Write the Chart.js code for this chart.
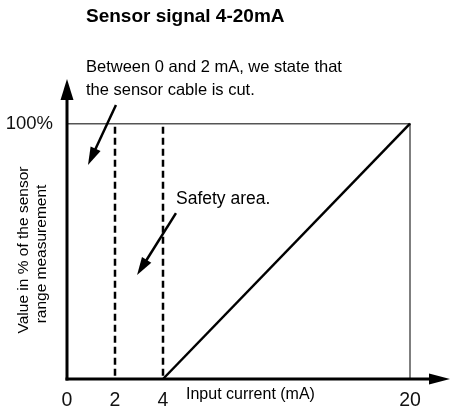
<!DOCTYPE html>
<html><head><meta charset="utf-8">
<script src="https://cdn.jsdelivr.net/npm/chart.js@4.4.1/dist/chart.umd.min.js"></script>
<style>html,body{margin:0;padding:0;background:#fff;}#wrap{width:451px;height:414px;position:relative;}</style>
</head><body><div id="wrap"><canvas id="c"></canvas></div>
<script>
// ---- data ----
const xTickValues = [0, 2, 4, 20];          // mA
const yTickValues = [100];                   // %
const signalCurrent = [4, 20];               // mA
const signalPercent = [0, 100];              // %
const limitCurrents = [2, 4];                // dashed limits (mA)
const limitSpan = [100, 0];                  // % extent of dashed limits
const rangeCurrent = [0, 20, 20];            // 100% / 20 mA frame
const rangePercent = [100, 100, 0];

const titleText = 'Sensor signal 4-20mA';
const noteCut = ['Between 0 and 2 mA, we state that', 'the sensor cable is cut.'];
const noteSafety = 'Safety area.';
const xTitle = 'Input current (mA)';
const yTitle = ['Value in % of the sensor', 'range measurement'];

// ---- piecewise linear scale (reference is drawn not to scale) ----
const LinearScale = Chart.LinearScale || Chart.registry.getScale('linear');
class PiecewiseScale extends LinearScale {
  _dec(v) {
    const b = this.options.breaks, w = this.options.weights;
    const total = w.reduce((s, c) => s + c, 0);
    let acc = 0;
    for (let i = 0; i < w.length; i++) {
      if (v <= b[i + 1] || i === w.length - 1) return (acc + (v - b[i]) / (b[i + 1] - b[i]) * w[i]) / total;
      acc += w[i];
    }
  }
  getPixelForValue(v) { return (v === null || v === undefined) ? NaN : this.getPixelForDecimal(this._dec(v)); }
  getValueForPixel(p) {
    const d = this.getDecimalForPixel(p);
    const b = this.options.breaks, w = this.options.weights;
    const total = w.reduce((s, c) => s + c, 0);
    let acc = 0;
    for (let i = 0; i < w.length; i++) {
      const f = w[i] / total;
      if (d <= acc + f || i === w.length - 1) return b[i] + (d - acc) / f * (b[i + 1] - b[i]);
      acc += f;
    }
  }
}
PiecewiseScale.id = 'piecewise';
PiecewiseScale.defaults = LinearScale.defaults;
Chart.register(PiecewiseScale);

const FONT = "'Liberation Sans', Arial, sans-serif";
Chart.defaults.font.family = FONT;
Chart.defaults.color = '#111';

const pts = (xs, ys) => xs.map((x, i) => ({x, y: ys[i]}));

function arrowHead(ctx, x1, y1, x2, y2, len, half) {
  const a = Math.atan2(y2 - y1, x2 - x1);
  ctx.beginPath();
  ctx.moveTo(x2, y2);
  ctx.lineTo(x2 - len * Math.cos(a) + half * Math.sin(a), y2 - len * Math.sin(a) - half * Math.cos(a));
  ctx.lineTo(x2 - len * Math.cos(a) - half * Math.sin(a), y2 - len * Math.sin(a) + half * Math.cos(a));
  ctx.closePath();
  ctx.fill();
}
function arrow(ctx, x1, y1, x2, y2, len, half, lw) {
  const a = Math.atan2(y2 - y1, x2 - x1);
  ctx.lineWidth = lw;
  ctx.beginPath();
  ctx.moveTo(x1, y1);
  ctx.lineTo(x2 - (len - 2) * Math.cos(a), y2 - (len - 2) * Math.sin(a));
  ctx.stroke();
  arrowHead(ctx, x1, y1, x2, y2, len, half);
}

// annotation arrows in data units (mA, %)
const cutArrow = {from: [2.04, 107.3], to: [0.875, 83.8]};
const safetyArrow = {from: [4.84, 65.0], to: [2.92, 40.7]};

const overlay = {
  id: 'overlay',
  afterDraw(chart) {
    const {ctx, scales: {x, y}} = chart;
    ctx.save();
    ctx.fillStyle = '#000'; ctx.strokeStyle = '#000'; ctx.lineCap = 'butt';
    const x0 = x.getPixelForValue(0), y0 = y.getPixelForValue(0);
    // axes with arrows
    ctx.lineWidth = 3;
    ctx.beginPath(); ctx.moveTo(x0 - 1.5, y0); ctx.lineTo(x.right - 18, y0); ctx.stroke();
    arrowHead(ctx, x0, y0, x.right, y0, 21, 5.5);
    ctx.beginPath(); ctx.moveTo(x0, y0 + 1.5); ctx.lineTo(x0, y.top + 18); ctx.stroke();
    arrowHead(ctx, x0, y0, x0, y.top, 21, 6.5);
    // annotation arrows
    for (const ar of [cutArrow, safetyArrow]) {
      arrow(ctx, x.getPixelForValue(ar.from[0]), y.getPixelForValue(ar.from[1]),
                 x.getPixelForValue(ar.to[0]), y.getPixelForValue(ar.to[1]), 18, 5.5, 2.5);
    }
    // texts
    ctx.textBaseline = 'alphabetic';
    ctx.textAlign = 'left';
    ctx.font = 'bold 19px ' + FONT;
    ctx.fillText(titleText, 86, 22);
    ctx.font = '16.5px ' + FONT;
    ctx.fillText(noteCut[0], 86, 72);
    ctx.fillText(noteCut[1], 86, 95);
    ctx.font = '17.5px ' + FONT;
    ctx.fillText(noteSafety, 176, 204);
    ctx.font = '16px ' + FONT;
    ctx.fillText(xTitle, 186, 399);
    ctx.font = '15.5px ' + FONT;
    ctx.textAlign = 'center';
    [[28, 250], [45.5, 254]].forEach(([tx, ty], i) => {
      ctx.save(); ctx.translate(tx, ty); ctx.rotate(-Math.PI / 2);
      ctx.fillText(yTitle[i], 0, 0); ctx.restore();
    });
    ctx.restore();
  }
};

const datasets = [
  {label: 'signal', data: pts(signalCurrent, signalPercent), borderColor: '#000', borderWidth: 2.5, order: 0},
  ...limitCurrents.map(c => ({label: 'limit ' + c, data: pts(limitSpan.map(() => c), limitSpan),
    borderColor: '#000', borderWidth: 2.5, borderDash: [7, 4], borderDashOffset: 8, order: 1})),
  {label: 'range', data: pts(rangeCurrent, rangePercent), borderColor: '#555', borderWidth: 1.5, order: 2}
].map(d => Object.assign({showLine: true, pointRadius: 0, fill: false, clip: false, tension: 0}, d));

new Chart(document.getElementById('c'), {
  type: 'scatter',
  data: {datasets},
  options: {
    responsive: true, maintainAspectRatio: false, animation: false,
    layout: {padding: {top: 79, right: 1, left: 0, bottom: 0}},
    plugins: {legend: {display: false}, title: {display: false}, tooltip: {enabled: false}},
    scales: {
      x: {
        type: 'piecewise', min: 0, max: 22.6,
        breaks: [0, 4, 20, 22.6], weights: [96, 247, 40],
        grid: {display: false, drawTicks: false}, border: {display: false},
        ticks: {autoSkip: false, padding: 10, font: {size: 19.5}, color: '#111', maxRotation: 0, callback: v => String(v)},
        afterBuildTicks: s => { s.ticks = xTickValues.map(v => ({value: v})); },
        afterFit: s => { s.height = 35; }
      },
      y: {
        type: 'linear', min: 0, max: 117.5,
        grid: {display: false, drawTicks: false}, border: {display: false},
        ticks: {autoSkip: false, padding: 14, font: {size: 18.5}, color: '#111', callback: v => v + '%'},
        afterBuildTicks: s => { s.ticks = yTickValues.map(v => ({value: v})); },
        afterFit: s => { s.width = 67; }
      }
    }
  },
  plugins: [overlay]
});
</script></body></html>
